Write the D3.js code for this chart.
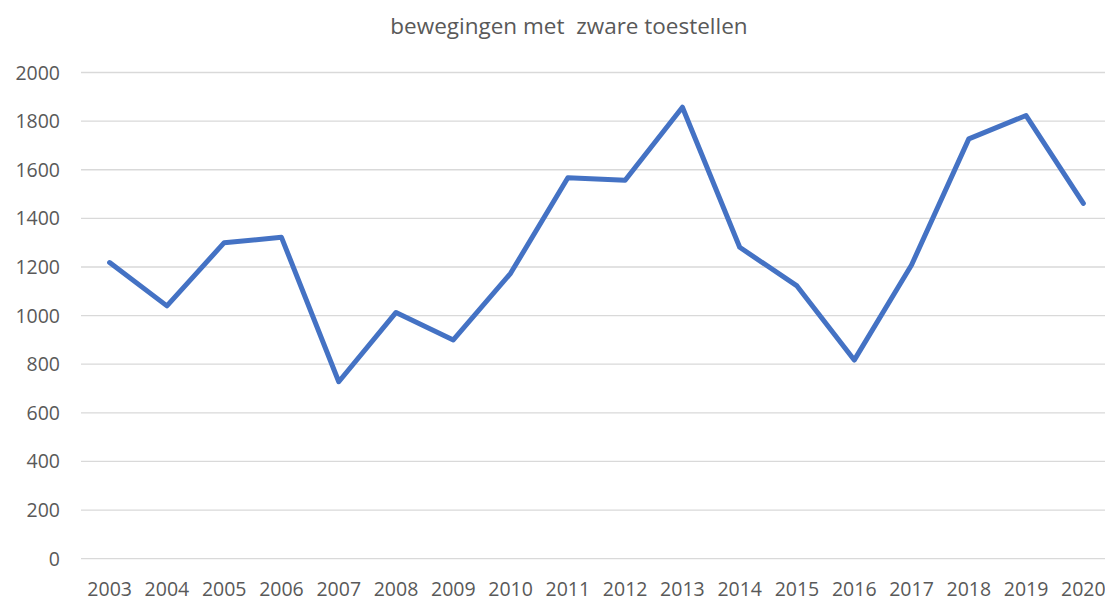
<!DOCTYPE html>
<html>
<head>
<meta charset="utf-8">
<title>bewegingen met zware toestellen</title>
<script src="https://d3js.org/d3.v7.min.js"></script>
<style>
  body { margin: 0; background: #fff; overflow: hidden; }
  svg { display: block; }
  text { font-family: "Open Sans", "Liberation Sans", sans-serif; fill: #595959; }
</style>
</head>
<body>
<svg width="1105" height="600"></svg>
<script>
// data
var years = ["2003","2004","2005","2006","2007","2008","2009","2010","2011",
             "2012","2013","2014","2015","2016","2017","2018","2019","2020"];
var movements = [1218, 1040, 1300, 1322, 728, 1013, 900, 1174, 1567,
                 1557, 1857, 1281, 1122, 817, 1208, 1727, 1823, 1462];
var yTicks = [0, 200, 400, 600, 800, 1000, 1200, 1400, 1600, 1800, 2000];
var title = "bewegingen met\u00a0 zware toestellen";

var svg = d3.select("svg");
// plot runs past the right edge of the window, like the original (2020 is cut)
var plotLeft = 81, plotRight = 1112, plotTop = 72.5, plotBottom = 558.7;

var x = d3.scaleBand().domain(years).range([plotLeft, plotRight]);
var y = d3.scaleLinear().domain([0, 2000]).range([plotBottom, plotTop]);

svg.append("text")
    .attr("x", 569)
    .attr("y", 34)
    .attr("text-anchor", "middle")
    .style("font-size", "22.5px")
    .text(title);

// gridlines
svg.append("g").selectAll("line")
    .data(yTicks)
    .join("line")
    .attr("x1", plotLeft)
    .attr("x2", plotRight)
    .attr("y1", d => y(d))
    .attr("y2", d => y(d))
    .style("stroke", "#d9d9d9")
    .style("stroke-width", 1.3);

// y labels
svg.append("g").selectAll("text")
    .data(yTicks)
    .join("text")
    .attr("x", 60)
    .attr("y", d => y(d))
    .attr("dy", "0.36em")
    .attr("text-anchor", "end")
    .style("font-size", "19.5px")
    .text(d => d);

// x labels
svg.append("g").selectAll("text")
    .data(years)
    .join("text")
    .attr("x", d => x(d) + x.bandwidth() / 2)
    .attr("y", 596)
    .attr("text-anchor", "middle")
    .style("font-size", "19.5px")
    .text(d => d);

var line = d3.line()
    .x((d, i) => x(years[i]) + x.bandwidth() / 2)
    .y(d => y(d));

svg.append("path")
    .datum(movements)
    .attr("d", line)
    .style("fill", "none")
    .style("stroke", "#4472C4")
    .style("stroke-width", 5)
    .style("stroke-linejoin", "round")
    .style("stroke-linecap", "round");
</script>
</body>
</html>
